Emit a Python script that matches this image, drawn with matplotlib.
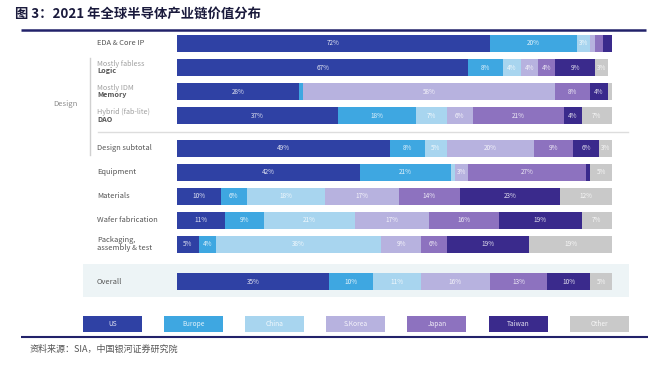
import numpy as np
import matplotlib
matplotlib.use("Agg")
from matplotlib import pyplot as plt
from matplotlib.patches import Rectangle

plt.rcParams['font.family'] = ['Noto Sans CJK SC', 'DejaVu Sans']

# data
regions = ["US", "Europe", "China", "S.Korea", "Japan", "Taiwan", "Other"]
rows = ["EDA & Core IP", "Logic", "Memory", "DAO", "Design subtotal",
        "Equipment", "Materials", "Wafer fabrication",
        "Packaging,\nassembly & test", "Overall"]
row_notes = ["", "Mostly fabless", "Mostly IDM", "Hybrid (fab-lite)",
             "", "", "", "", "", ""]
shares = np.array([
    [72, 20, 3, 1, 2, 2, 0],
    [67, 8, 4, 4, 4, 9, 3],
    [28, 1, 0, 58, 8, 4, 1],
    [37, 18, 7, 6, 21, 4, 7],
    [49, 8, 5, 20, 9, 6, 3],
    [42, 21, 1, 3, 27, 1, 5],
    [10, 6, 18, 17, 14, 23, 12],
    [11, 9, 21, 17, 16, 19, 7],
    [5, 4, 38, 9, 6, 19, 19],
    [35, 10, 11, 16, 13, 10, 5],
])
title = "图 3：2021 年全球半导体产业链价值分布"
source = "资料来源：SIA，中国银河证券研究院"

# styles / layout (pixel coordinates)
colors = ["#2f41a4", "#3ea7e1", "#a8d5ef", "#b7b2df", "#8d72bf", "#3a2a8c", "#c9c9c9"]
row_y = [43, 67.5, 91.5, 115.5, 148.5, 172.5, 196.5, 220.5, 244.5, 281.5]
bar_h = 17
W, H = 660, 371

fig = plt.figure(figsize=(6.6, 3.71), dpi=100)

# decoration layer in pixel coordinates
bg = fig.add_axes([0, 0, 1, 1])
bg.set_xlim(0, W)
bg.set_ylim(H, 0)
bg.axis("off")
bg.set_zorder(0)

# bars layer: x from 0-100 %
ax = fig.add_axes([177 / W, 0, 435 / W, 1])
ax.set_xlim(0, 100)
ax.set_ylim(H, 0)
ax.axis("off")
ax.set_zorder(1)
ax.patch.set_alpha(0)

# title and rules
bg.text(15, 14, title, fontsize=9.6, fontweight="bold", color="#1a1a3c",
        va="center", ha="left")
bg.plot([21, 646], [29.5, 29.5], color="#22226a", lw=1.8, solid_capstyle="butt")
bg.plot([21, 648], [337, 337], color="#22226a", lw=1.5, solid_capstyle="butt")
bg.text(30, 349, source, fontsize=6.5, color="#555555", style="italic",
        va="center", ha="left")

# overall highlight band
bg.add_patch(Rectangle((83, 264), 546, 33, color="#edf4f6", lw=0))

# design bracket
bg.plot([98, 628], [132, 132], color="#dddddd", lw=1)
bg.plot([89.5, 89.5], [58, 155], color="#d0d0d0", lw=1)
bg.text(65, 104, "Design", fontsize=5.5, color="#8a8a8a", ha="center", va="center")

# row labels
for name, note, y in zip(rows, row_notes, row_y):
    if note:
        bg.text(97, y - 3.5, note, fontsize=5.2, color="#a0a0a0", va="center")
        bg.text(97, y + 3.5, name, fontsize=5.2, color="#555555",
                fontweight="bold", va="center")
    else:
        bg.text(97, y, name, fontsize=5.4, color="#555555", va="center",
                linespacing=1.0)

# stacked bars
left = np.zeros(len(rows))
for j, reg in enumerate(regions):
    vals = shares[:, j]
    ax.barh(row_y, vals, left=left, height=bar_h, color=colors[j], lw=0)
    for i, v in enumerate(vals):
        if v >= 3:
            ax.text(left[i] + v / 2, row_y[i], f"{v}%", fontsize=4.6,
                    color="white", ha="center", va="center", alpha=0.85)
    left += vals

# legend boxes
for j, reg in enumerate(regions):
    x0 = 83 + j * 81.1
    bg.add_patch(Rectangle((x0, 316), 59, 16, color=colors[j], lw=0))
    bg.text(x0 + 29.5, 324, reg, fontsize=4.8, color="white", alpha=0.85,
            ha="center", va="center")

fig.savefig("out.png", dpi=100)
